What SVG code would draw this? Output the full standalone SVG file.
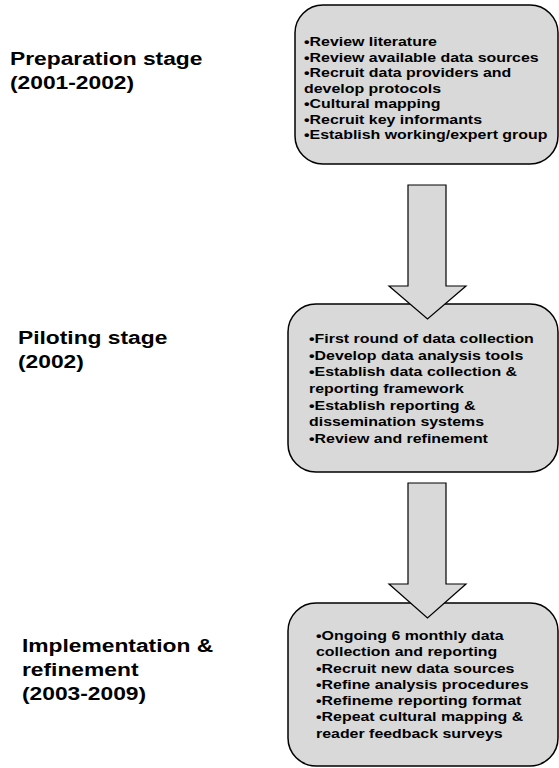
<svg xmlns="http://www.w3.org/2000/svg" width="559" height="768" viewBox="0 0 559 768">
<style>
.box{fill:#d9d9d9;stroke:#000;stroke-width:1.5}
.arrow{fill:#d9d9d9;stroke:#000;stroke-width:1.2}
.lbl{font-family:"Liberation Sans",Arial,sans-serif;font-weight:bold;font-size:19px;fill:#000}
.txt{font-family:"Liberation Sans",Arial,sans-serif;font-weight:bold;font-size:13.5px;fill:#000}
</style>
<rect width="559" height="768" fill="#fff"/>
<g id="label-preparation" transform="translate(10,0) scale(1.2,1)">
<text class="lbl" x="0" y="65">Preparation stage</text>
<text class="lbl" x="0" y="89">(2001-2002)</text>
</g>
<g id="label-piloting" transform="translate(18,0) scale(1.2,1)">
<text class="lbl" x="0" y="344">Piloting stage</text>
<text class="lbl" x="0" y="368">(2002)</text>
</g>
<g id="label-implementation" transform="translate(22,0) scale(1.2,1)">
<text class="lbl" x="0" y="652">Implementation &amp;</text>
<text class="lbl" x="0" y="676">refinement</text>
<text class="lbl" x="0" y="700">(2003-2009)</text>
</g>
<g id="node-preparation">
<rect class="box" x="295" y="5" width="263" height="159" rx="28" ry="28"/>
<g transform="translate(304,0) scale(1.18,1)">
<text class="txt" x="0" y="46.5">•Review literature</text>
<text class="txt" x="0" y="62">•Review available data sources</text>
<text class="txt" x="0" y="77.5">•Recruit data providers and</text>
<text class="txt" x="0" y="93">develop protocols</text>
<text class="txt" x="0" y="108.5">•Cultural mapping</text>
<text class="txt" x="0" y="124">•Recruit  key informants</text>
<text class="txt" x="0" y="139.5">•Establish working/expert group</text>
</g>
</g>
<g id="node-piloting">
<rect class="box" x="288" y="304" width="270" height="168" rx="28" ry="28"/>
<g transform="translate(309,0) scale(1.18,1)">
<text class="txt" x="0" y="343">•First round of data collection</text>
<text class="txt" x="0" y="359.7">•Develop data analysis tools</text>
<text class="txt" x="0" y="376.4">•Establish data collection &amp;</text>
<text class="txt" x="0" y="393.1">reporting framework</text>
<text class="txt" x="0" y="409.8">•Establish reporting &amp;</text>
<text class="txt" x="0" y="426.5">dissemination systems</text>
<text class="txt" x="0" y="443.2">•Review and refinement</text>
</g>
</g>
<g id="node-implementation">
<rect class="box" x="288" y="603" width="270" height="163" rx="28" ry="28"/>
<g transform="translate(316,0) scale(1.18,1)">
<text class="txt" x="0" y="640">•Ongoing 6 monthly data</text>
<text class="txt" x="0" y="656.3">collection and reporting</text>
<text class="txt" x="0" y="672.6">•Recruit new data sources</text>
<text class="txt" x="0" y="688.9">•Refine analysis procedures</text>
<text class="txt" x="0" y="705.2">•Refineme reporting format</text>
<text class="txt" x="0" y="721.5">•Repeat cultural mapping &amp;</text>
<text class="txt" x="0" y="737.8">reader feedback surveys</text>
</g>
</g>
<g id="connectors">
<polygon class="arrow" points="408,185 446,185 446,286 466,286 427.5,319 389,286 408,286"/>
<polygon class="arrow" points="408,483 446,483 446,584 466,584 427.5,618 389,584 408,584"/>
</g>
</svg>
